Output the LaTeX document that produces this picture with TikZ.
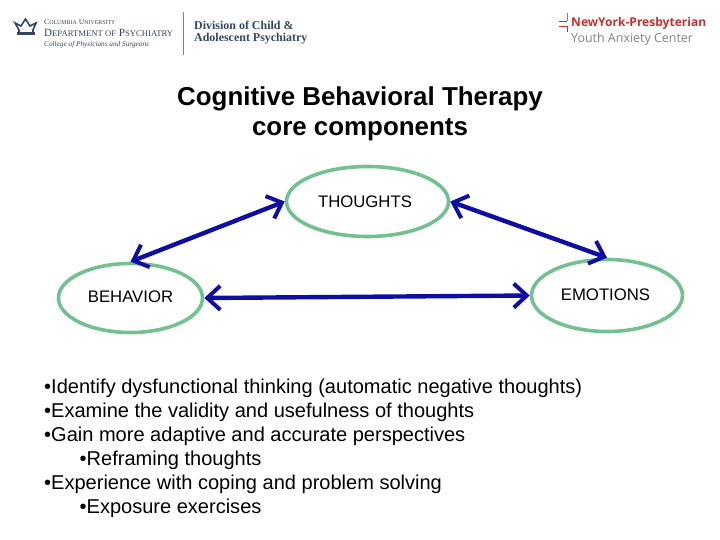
\documentclass[tikz,border=0pt]{standalone}
\usepackage{fontspec}
\setmainfont{Liberation Sans}
\newfontfamily\logoserif{Liberation Serif}
\newfontfamily\logosans{Open Sans}
\usetikzlibrary{arrows.meta,shapes.geometric}
\definecolor{ringgreen}{RGB}{115,192,146}
\definecolor{arrowblue}{RGB}{14,14,160}
\definecolor{logoblue}{RGB}{52,68,100}
\definecolor{logored}{RGB}{190,50,50}
\definecolor{logogrey}{RGB}{130,130,130}
\newcommand{\fs}[1]{\fontsize{#1}{#1}\selectfont}

\begin{document}
\begin{tikzpicture}[x=1bp,y=-1bp,>={Straight Barb[length=13bp,width=24bp,line width=4bp]},
      ring/.style={ellipse,draw=ringgreen,line width=3.6bp,inner sep=0pt},
      link/.style={<->,draw=arrowblue,line width=4.4bp},
      label/.style={inner sep=0pt,font=\fs{16.8}},
      logo/.style={inner sep=0pt,anchor=west,text=logoblue}]
      \useasboundingbox (0,0) rectangle (720,540);

      % left logo
      \node[logo,font=\logoserif\fs{7.8}] (columbia) at (44,22) {C{\fs{5.9}OLUMBIA} U{\fs{5.9}NIVERSITY}};
      \node[logo,font=\logoserif\fs{11.1}] (dept) at (44,33) {D{\fs{8.7}EPARTMENT OF} P{\fs{8.7}SYCHIATRY}};
      \node[logo,font=\logoserif\itshape\fs{7.3}] (college) at (44,45) {College of Physicians and Surgeons};
      \node[logo,font=\logoserif\bfseries\fs{12}] (division) at (194,25) {Division of Child \&};
      \node[logo,font=\logoserif\bfseries\fs{12}] (adolescent) at (194,39) {Adolescent Psychiatry};
      \draw[logogrey,line width=.8bp] (183,12) -- (183,55);
      \draw[logoblue,line width=1.6bp] (15,23) -- (19,30) -- (19,33) -- (33,33) -- (33,30) -- (36,23) -- (30,26)
        -- (25.5,19) -- (21,26) -- cycle;
      \fill[logoblue] (17,32.5) rectangle (35,35.5);

      % right logo
      \node[logo,text=logored,font=\logosans\bfseries\fs{12.1}] (nyp) at (571,23) {NewYork-Presbyterian};
      \node[logo,text=logogrey,font=\logosans\fs{12.5}] (youth) at (571,39) {Youth Anxiety Center};
      \draw[logogrey,line width=.8bp] (567,13) -- (567,21);
      \draw[logored,line width=.9bp] (559,21.5) -- (567,21.5);
      \draw[logored,line width=.9bp] (559,26.5) -- (567,26.5) -- (567,32);

      \node[font=\bfseries\fs{26},align=center,inner sep=0pt] (title) at (360,113.5)
        {Cognitive Behavioral Therapy\\[4.4bp]core components};

      \node[ring,minimum width=162bp,minimum height=70bp] (thoughts) at (367.5,201.5) {};
      \node[ring,minimum width=144bp,minimum height=69bp] (behavior) at (130.5,298) {};
      \node[ring,minimum width=151bp,minimum height=72bp] (emotions) at (607,295.5) {};
      \node[label] (thoughtstext) at (365,202) {THOUGHTS};
      \node[label] (behaviortext) at (130.5,297) {BEHAVIOR};
      \node[label] (emotionstext) at (605.5,295) {EMOTIONS};

      \path
      (thoughts.west) edge [link] (behavior.north)
      (thoughts.east) edge [link] (emotions.north)
      (behavior.east) edge [link] (emotions.west)
      ;

      \node[inner sep=0pt,anchor=north west,align=left,font=\fs{20.1}] (bullets) at (44,379) {%
        •Identify dysfunctional thinking (automatic negative thoughts)\\[3.9bp]
        •Examine the validity and usefulness of thoughts\\[3.9bp]
        •Gain more adaptive and accurate perspectives\\[3.9bp]
        \hspace*{35.5bp}•Reframing thoughts\\[3.9bp]
        •Experience with coping and problem solving\\[3.9bp]
        \hspace*{35.5bp}•Exposure exercises};
      \end{tikzpicture}
\end{document}
